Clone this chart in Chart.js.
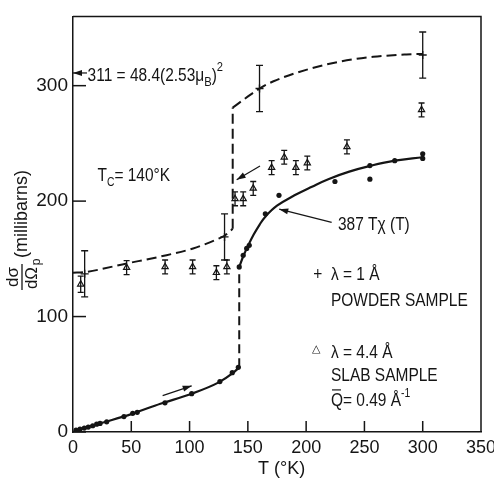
<!DOCTYPE html>
<html lang="en">
<head>
<meta charset="UTF-8">
<title>Magnetic cross section vs temperature</title>
<script src="https://cdn.jsdelivr.net/npm/chart.js"></script>
<style>
  html, body { margin: 0; padding: 0; background: #fff; }
  canvas { display: block; }
</style>
</head>
<body>
<canvas id="chart" width="494" height="478"></canvas>
<script>
// powder sample, lambda = 1 A (crosses with error bars)
const powderT = [10, 130, 160, 300];
const powderV = [137, 169, 297.5, 326.5];
const powderErr = [20, 20, 20, 20];

// slab sample, lambda = 4.4 A (open triangles with error bars)
const slabT = [6.6, 46, 79, 102.6, 123, 132, 139, 146, 154.6, 170.4, 181.2, 191.2, 201, 235, 299];
const slabV = [128, 142.4, 143, 143, 138, 143, 202, 202, 211, 229, 238, 229, 233, 247, 279];
const slabErr = [7, 6, 6, 6, 6, 6, 6, 6, 6, 6, 6, 6, 6, 6, 6];

// measured points (dots)
const dotT = [2.6, 6, 9.7, 13.1, 16.9, 20.3, 23.2, 28.9, 43.7, 51.2, 55.1, 78.9, 101.8, 126, 136.6, 141.8,
              142.6, 146, 149, 151.2, 165, 176.7, 224.7, 254.7, 254.7, 276, 300, 300];
const dotV = [1.7, 2.6, 3.4, 4.3, 5.4, 6.8, 7.4, 8.8, 13.4, 16.2, 17, 25.3, 33.2, 43.7, 51.4, 56,
              143, 153, 159, 161.7, 189, 205, 217, 219, 230.8, 235, 241, 237];

// 387 T chi(T) curve, below and above the jump
const solidLowT = [0, 10, 25, 50, 75, 100, 125, 137, 142.6];
const solidLowV = [0, 3.5, 8, 15.5, 24.5, 32.5, 43, 51, 56];
const solidHighT = [142.6, 146, 150, 155, 160, 165, 175, 190, 205, 219, 237, 255, 276, 300];
const solidHighV = [143, 152, 161, 171, 179.5, 186.5, 196, 205, 212.5, 219, 225.5, 230.5, 235, 238];

// dashed guide curves
const dashLowT = [0, 10, 46, 75, 103, 126, 130, 137];
const dashLowV = [138, 138.5, 146, 152, 159, 168, 170, 176];
const dashJumpT = [137, 137];
const dashJumpV = [176, 281];
const dashHighT = [137, 152, 160, 172, 200, 229, 257.5, 286, 300];
const dashHighV = [281, 292, 297.5, 303.8, 313.7, 320.8, 325, 327, 327.5];
const dotJumpT = [142.6, 142.6];
const dotJumpV = [56, 143];

const xTicks = [0, 50, 100, 150, 200, 250, 300, 350];
const yTicks = [0, 100, 200, 300];

const FONT = "'Liberation Sans', 'DejaVu Sans', sans-serif";
const INK = '#151515';
const SQ = 0.86; // lettering is narrower than Liberation Sans

const pts = (xs, ys) => xs.map((x, i) => ({ x: x, y: ys[i] }));

// annotation arrows, in data units: [fromT, fromV, toT, toV]
const arrows = [
  [12, 311, 0, 311],
  [160.4, 230.4, 140.4, 218.5],
  [221.9, 181.6, 176.9, 193],
  [76.9, 31.5, 101.8, 40]
];

// text runs with sub/superscripts; each part is [text, size, dy]
function drawParts(ctx, x, y, parts) {
  parts.forEach(p => {
    ctx.font = p[1] + 'px ' + FONT;
    ctx.save();
    ctx.translate(x, y + (p[2] || 0));
    ctx.scale(SQ, 1);
    ctx.fillText(p[0], 0, 0);
    ctx.restore();
    x += ctx.measureText(p[0]).width * SQ;
  });
  return x;
}

function arrow(ctx, x1, y1, x2, y2) {
  const a = Math.atan2(y2 - y1, x2 - x1);
  ctx.beginPath();
  ctx.moveTo(x1, y1);
  ctx.lineTo(x2, y2);
  ctx.stroke();
  ctx.beginPath();
  ctx.moveTo(x2, y2);
  ctx.lineTo(x2 - 9 * Math.cos(a) + 3 * Math.sin(a), y2 - 9 * Math.sin(a) - 3 * Math.cos(a));
  ctx.lineTo(x2 - 9 * Math.cos(a) - 3 * Math.sin(a), y2 - 9 * Math.sin(a) + 3 * Math.cos(a));
  ctx.closePath();
  ctx.fill();
}

const decor = {
  id: 'decor',
  afterDraw(chart) {
    const ctx = chart.ctx;
    const xs = chart.scales.x, ys = chart.scales.y;
    const a = chart.chartArea;
    const X = v => xs.getPixelForValue(v);
    const Y = v => ys.getPixelForValue(v);
    ctx.save();
    ctx.strokeStyle = INK;
    ctx.fillStyle = INK;

    // frame top / right
    ctx.lineWidth = 1.5;
    ctx.beginPath();
    ctx.moveTo(a.left, a.top); ctx.lineTo(a.right, a.top); ctx.lineTo(a.right, a.bottom);
    ctx.stroke();

    // inward tick marks
    yTicks.forEach(v => {
      ctx.beginPath(); ctx.moveTo(a.left, Y(v)); ctx.lineTo(a.left + 13, Y(v)); ctx.stroke();
    });
    xTicks.slice(1, -1).forEach(v => {
      ctx.beginPath(); ctx.moveTo(X(v), a.bottom); ctx.lineTo(X(v), a.bottom - 11); ctx.stroke();
    });

    // error bars
    ctx.lineWidth = 1.3;
    powderT.forEach((t, i) => {
      const x = X(t), y1 = Y(powderV[i] - powderErr[i]), y2 = Y(powderV[i] + powderErr[i]);
      ctx.beginPath();
      ctx.moveTo(x, y1); ctx.lineTo(x, y2);
      ctx.moveTo(x - 3.5, y1); ctx.lineTo(x + 3.5, y1);
      ctx.moveTo(x - 3.5, y2); ctx.lineTo(x + 3.5, y2);
      ctx.stroke();
    });
    slabT.forEach((t, i) => {
      const x = X(t), y1 = Y(slabV[i] - slabErr[i]), y2 = Y(slabV[i] + slabErr[i]);
      ctx.beginPath();
      ctx.moveTo(x, y1); ctx.lineTo(x, y2);
      ctx.moveTo(x - 3, y1); ctx.lineTo(x + 3, y1);
      ctx.moveTo(x - 3, y2); ctx.lineTo(x + 3, y2);
      ctx.stroke();
    });

    // arrows
    ctx.lineWidth = 1.2;
    arrows.forEach(r => arrow(ctx, X(r[0]), Y(r[1]), X(r[2]), Y(r[3])));

    // annotation text
    ctx.textBaseline = 'alphabetic';
    ctx.textAlign = 'left';
    drawParts(ctx, X(12.5), Y(304), [['311 = 48.4(2.53\u03bc', 18], ['B', 13, 5], [')', 18], ['2', 13, -10]]);
    drawParts(ctx, X(21), Y(217), [['T', 18], ['C', 12, 5], ['= 140\u00b0K', 18]]);
    drawParts(ctx, X(227.3), Y(174.8), [['387 T\u03c7 (T)', 18]]);

    drawParts(ctx, X(206), Y(131.3), [['+', 18]]);
    drawParts(ctx, X(221.3), Y(131.3), [['\u03bb = 1 \u00c5', 18]]);
    drawParts(ctx, X(221.3), Y(109.5), [['POWDER SAMPLE', 18]]);
    ctx.font = '11px DejaVu Sans';
    ctx.fillText('\u25b3', X(205), Y(69));
    drawParts(ctx, X(221.3), Y(64), [['\u03bb = 4.4 \u00c5', 18]]);
    drawParts(ctx, X(221.3), Y(43.9), [['SLAB SAMPLE', 18]]);
    const qx = X(221.3), qy = Y(22.6);
    drawParts(ctx, qx, qy, [['Q', 18], ['= 0.49 \u00c5', 18], ['-1', 12, -9]]);
    ctx.lineWidth = 1.2;
    ctx.beginPath(); ctx.moveTo(qx + 1, qy - 16); ctx.lineTo(qx + 10, qy - 16); ctx.stroke();

    // y axis title, rotated
    ctx.translate(22, 228);
    ctx.rotate(-Math.PI / 2);
    ctx.textAlign = 'center';
    ctx.font = '17px ' + FONT;
    ctx.fillText('d\u03c3', -49, -4);
    ctx.fillText('d\u03a9', -50, 15);
    ctx.lineWidth = 1.3;
    ctx.beginPath(); ctx.moveTo(-62, 0); ctx.lineTo(-36, 0); ctx.stroke();
    ctx.font = '12px ' + FONT;
    ctx.fillText('p', -34, 18);
    ctx.textAlign = 'left';
    ctx.textBaseline = 'middle';
    ctx.font = '18px ' + FONT;
    ctx.fillText('(millibarns)', -30, 0);

    ctx.restore();

    // x axis title
    ctx.save();
    ctx.fillStyle = INK;
    ctx.textAlign = 'center';
    ctx.textBaseline = 'middle';
    ctx.font = '18px ' + FONT;
    ctx.fillText('T (\u00b0K)', X(179), 469);
    ctx.restore();
  }
};

const lineStyle = { showLine: true, borderColor: INK, pointRadius: 0, fill: false };

new Chart(document.getElementById('chart'), {
  type: 'scatter',
  data: {
    datasets: [
      Object.assign({ data: pts(dashLowT, dashLowV), borderWidth: 2, borderDash: [10, 5], cubicInterpolationMode: 'monotone' }, lineStyle),
      Object.assign({ data: pts(dashJumpT, dashJumpV), borderWidth: 2, borderDash: [10, 5] }, lineStyle),
      Object.assign({ data: pts(dashHighT, dashHighV), borderWidth: 2, borderDash: [10, 5], cubicInterpolationMode: 'monotone' }, lineStyle),
      Object.assign({ data: pts(dotJumpT, dotJumpV), borderWidth: 2, borderDash: [9, 5] }, lineStyle),
      Object.assign({ data: pts(solidLowT, solidLowV), borderWidth: 2.2, cubicInterpolationMode: 'monotone' }, lineStyle),
      Object.assign({ data: pts(solidHighT, solidHighV), borderWidth: 2.2, tension: 0.4 }, lineStyle),
      { data: pts(dotT, dotV), pointStyle: 'circle', pointRadius: 2.6, backgroundColor: INK, borderColor: INK, borderWidth: 0 },
      { data: pts(slabT, slabV), pointStyle: 'triangle', pointRadius: 3.6, backgroundColor: '#fff', borderColor: INK, borderWidth: 1.2 },
      { data: pts(powderT, powderV), pointStyle: 'cross', pointRadius: 4, borderColor: INK, borderWidth: 1.4 }
    ]
  },
  options: {
    responsive: false,
    animation: false,
    events: [],
    layout: { padding: { top: 11, right: 13, left: 0, bottom: 0 } },
    plugins: { legend: { display: false }, tooltip: { enabled: false } },
    scales: {
      x: {
        type: 'linear', min: 0, max: 350,
        ticks: { stepSize: 50, color: INK, font: { family: FONT, size: 18 }, padding: 5, maxRotation: 0 },
        grid: { display: false, drawTicks: false },
        border: { display: true, color: INK, width: 1.5 },
        afterBuildTicks: s => { s.ticks = xTicks.map(v => ({ value: v })); },
        afterFit: s => { s.height = 46; s.paddingLeft = 0; s.paddingRight = 0; }
      },
      y: {
        type: 'linear', min: 0, max: 360,
        ticks: { stepSize: 100, color: INK, font: { family: FONT, size: 19 }, padding: 5 },
        grid: { display: false, drawTicks: false },
        border: { display: true, color: INK, width: 1.5 },
        afterBuildTicks: s => { s.ticks = yTicks.map(v => ({ value: v })); },
        afterFit: s => { s.width = 73; }
      }
    }
  },
  plugins: [decor]
});
</script>
</body>
</html>
